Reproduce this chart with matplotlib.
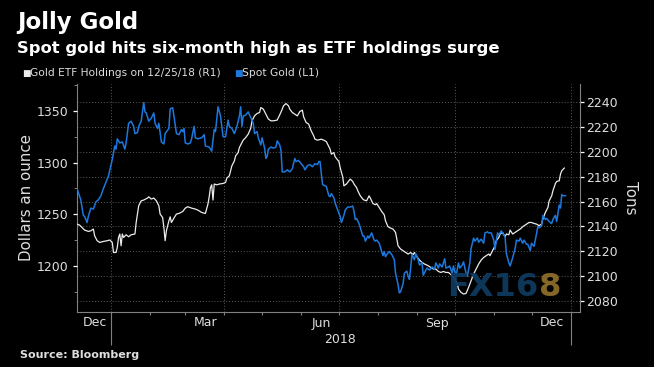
import numpy as np
import pandas as pd
import matplotlib
matplotlib.use('Agg')
import matplotlib.pyplot as plt
import matplotlib.dates as mdates
from matplotlib.ticker import MultipleLocator, FixedLocator


# ----------- values ----------- #

# spot gold, dollars an ounce (left axis)
spot_dates = [
    '2017-12-05', '2017-12-08', '2017-12-10', '2017-12-11', '2017-12-13', '2017-12-14', '2017-12-16',
    '2017-12-18', '2017-12-20', '2017-12-22', '2017-12-24', '2017-12-26', '2017-12-30',
    '2018-01-02', '2018-01-04', '2018-01-05', '2018-01-06', '2018-01-08', '2018-01-10', '2018-01-12',
    '2018-01-13', '2018-01-15', '2018-01-17', '2018-01-19', '2018-01-20', '2018-01-22', '2018-01-23',
    '2018-01-25', '2018-01-27', '2018-01-28', '2018-01-29', '2018-01-31',
    '2018-02-02', '2018-02-04', '2018-02-05', '2018-02-07', '2018-02-08', '2018-02-10', '2018-02-12',
    '2018-02-13', '2018-02-16', '2018-02-17', '2018-02-19', '2018-02-20', '2018-02-22', '2018-02-24',
    '2018-02-26', '2018-02-27', '2018-02-28',
    '2018-03-01', '2018-03-03', '2018-03-05', '2018-03-06', '2018-03-08', '2018-03-09', '2018-03-11',
    '2018-03-14', '2018-03-16', '2018-03-17', '2018-03-20', '2018-03-22', '2018-03-24', '2018-03-25',
    '2018-03-27', '2018-03-29', '2018-03-31',
    '2018-04-02', '2018-04-04', '2018-04-05', '2018-04-07', '2018-04-09', '2018-04-11', '2018-04-13',
    '2018-04-14', '2018-04-15', '2018-04-16', '2018-04-18', '2018-04-20', '2018-04-21', '2018-04-23',
    '2018-04-24', '2018-04-25', '2018-04-27', '2018-04-28', '2018-04-30',
    '2018-05-01', '2018-05-03', '2018-05-04', '2018-05-05', '2018-05-06', '2018-05-08', '2018-05-10',
    '2018-05-12', '2018-05-13', '2018-05-15', '2018-05-16', '2018-05-17', '2018-05-19', '2018-05-21',
    '2018-05-23', '2018-05-25', '2018-05-27', '2018-05-28', '2018-05-30',
    '2018-06-01', '2018-06-03', '2018-06-04', '2018-06-06', '2018-06-08', '2018-06-10', '2018-06-12',
    '2018-06-14', '2018-06-15', '2018-06-16', '2018-06-18', '2018-06-19', '2018-06-21', '2018-06-23',
    '2018-06-24', '2018-06-25', '2018-06-27', '2018-06-28',
    '2018-07-01', '2018-07-02', '2018-07-03', '2018-07-05', '2018-07-06', '2018-07-08', '2018-07-10',
    '2018-07-12', '2018-07-13', '2018-07-14', '2018-07-15', '2018-07-17', '2018-07-19', '2018-07-20',
    '2018-07-21', '2018-07-22', '2018-07-24', '2018-07-25', '2018-07-27', '2018-07-29', '2018-07-30',
    '2018-07-31',
    '2018-08-02', '2018-08-03', '2018-08-05', '2018-08-06', '2018-08-07', '2018-08-08', '2018-08-10',
    '2018-08-12', '2018-08-14', '2018-08-15', '2018-08-17', '2018-08-18', '2018-08-19', '2018-08-21',
    '2018-08-22', '2018-08-24', '2018-08-25', '2018-08-26', '2018-08-27', '2018-08-28', '2018-08-30',
    '2018-08-31',
    '2018-09-02', '2018-09-03', '2018-09-05', '2018-09-06', '2018-09-08', '2018-09-09', '2018-09-11',
    '2018-09-13', '2018-09-15', '2018-09-16', '2018-09-18', '2018-09-19', '2018-09-21', '2018-09-23',
    '2018-09-24', '2018-09-26', '2018-09-27', '2018-09-29', '2018-09-30',
    '2018-10-02', '2018-10-04', '2018-10-05', '2018-10-07', '2018-10-08', '2018-10-10', '2018-10-11',
    '2018-10-13', '2018-10-14', '2018-10-16', '2018-10-17', '2018-10-19', '2018-10-20', '2018-10-22',
    '2018-10-24', '2018-10-25', '2018-10-27', '2018-10-28', '2018-10-30',
    '2018-11-01', '2018-11-02', '2018-11-04', '2018-11-05', '2018-11-07', '2018-11-08', '2018-11-10',
    '2018-11-11', '2018-11-13', '2018-11-14', '2018-11-16', '2018-11-18', '2018-11-19', '2018-11-21',
    '2018-11-22', '2018-11-24', '2018-11-25', '2018-11-27', '2018-11-28', '2018-11-30',
    '2018-12-01', '2018-12-03', '2018-12-04', '2018-12-06', '2018-12-07', '2018-12-09', '2018-12-10',
    '2018-12-12', '2018-12-13', '2018-12-15', '2018-12-17', '2018-12-18', '2018-12-20', '2018-12-21',
    '2018-12-23', '2018-12-24', '2018-12-25', '2018-12-26', '2018-12-28',
]
spot_usd = [
    1275, 1264, 1249, 1248, 1242, 1248, 1256, 1255, 1262, 1264, 1268, 1275, 1287,
    1303, 1316, 1313, 1323, 1319, 1320, 1313, 1319, 1338, 1340, 1335, 1328, 1329, 1335, 1340,
    1358, 1349, 1348, 1340,
    1343, 1348, 1338, 1333, 1338, 1320, 1318, 1328, 1333, 1352, 1353, 1345, 1328, 1327, 1332,
    1330, 1333,
    1319, 1318, 1319, 1323, 1335, 1324, 1323, 1324, 1327, 1316, 1315, 1311, 1332, 1330, 1354,
    1345, 1325,
    1325, 1341, 1335, 1333, 1328, 1335, 1345, 1354, 1335, 1345, 1346, 1349, 1346, 1341, 1338,
    1328, 1330, 1324, 1317,
    1324, 1314, 1304, 1306, 1313, 1315, 1314, 1315, 1321, 1317, 1312, 1291, 1291, 1293, 1291,
    1294, 1304, 1301, 1302,
    1299, 1296, 1293, 1297, 1298, 1296, 1299, 1298, 1301, 1301, 1279, 1278, 1277, 1268, 1267,
    1270, 1266, 1261,
    1251, 1248, 1242, 1249, 1254, 1257, 1257, 1258, 1253, 1245, 1246, 1241, 1233, 1229, 1229,
    1224, 1229, 1227, 1232, 1225, 1224, 1225,
    1222, 1218, 1210, 1214, 1209, 1211, 1214, 1211, 1206, 1193, 1182, 1174, 1175, 1183, 1193,
    1195, 1190, 1187, 1198, 1211, 1206, 1212,
    1206, 1201, 1203, 1191, 1196, 1198, 1196, 1199, 1197, 1203, 1198, 1202, 1199, 1207, 1198,
    1199, 1200, 1193, 1200,
    1190, 1203, 1198, 1201, 1204, 1193, 1190, 1203, 1217, 1227, 1224, 1227, 1223, 1226, 1222,
    1232, 1233, 1232, 1232,
    1225, 1216, 1232, 1230, 1234, 1232, 1228, 1212, 1203, 1200, 1208, 1217, 1225, 1224, 1227,
    1222, 1225, 1221, 1221, 1215,
    1222, 1219, 1225, 1238, 1237, 1239, 1249, 1245, 1246, 1243, 1241, 1245, 1249, 1243, 1259,
    1256, 1269, 1268, 1268,
]

# gold ETF holdings, tons (right axis)
etf_dates = [
    '2017-12-05', '2017-12-07', '2017-12-09', '2017-12-11', '2017-12-14', '2017-12-16', '2017-12-18',
    '2017-12-19', '2017-12-21', '2017-12-23', '2017-12-26', '2017-12-29', '2017-12-31',
    '2018-01-02', '2018-01-03', '2018-01-05', '2018-01-06', '2018-01-07', '2018-01-08', '2018-01-09',
    '2018-01-10', '2018-01-11', '2018-01-13', '2018-01-15', '2018-01-17', '2018-01-20', '2018-01-21',
    '2018-01-23', '2018-01-25', '2018-01-27', '2018-01-30', '2018-01-31',
    '2018-02-02', '2018-02-04', '2018-02-06', '2018-02-08', '2018-02-09', '2018-02-11', '2018-02-12',
    '2018-02-13', '2018-02-14', '2018-02-16', '2018-02-17', '2018-02-18', '2018-02-20', '2018-02-22',
    '2018-02-24', '2018-02-27',
    '2018-03-01', '2018-03-03', '2018-03-06', '2018-03-09', '2018-03-11', '2018-03-14', '2018-03-17',
    '2018-03-19', '2018-03-20', '2018-03-21', '2018-03-22', '2018-03-23', '2018-03-24', '2018-03-26',
    '2018-03-28', '2018-03-31',
    '2018-04-02', '2018-04-03', '2018-04-05', '2018-04-06', '2018-04-07', '2018-04-09', '2018-04-10',
    '2018-04-12', '2018-04-13', '2018-04-15', '2018-04-16', '2018-04-18', '2018-04-20', '2018-04-22',
    '2018-04-23', '2018-04-25', '2018-04-27', '2018-04-29', '2018-04-30',
    '2018-05-02', '2018-05-04', '2018-05-06', '2018-05-08', '2018-05-10', '2018-05-13', '2018-05-15',
    '2018-05-17', '2018-05-18', '2018-05-20', '2018-05-22', '2018-05-23', '2018-05-25', '2018-05-27',
    '2018-05-29', '2018-05-31',
    '2018-06-02', '2018-06-03', '2018-06-05', '2018-06-07', '2018-06-09', '2018-06-11', '2018-06-12',
    '2018-06-14', '2018-06-17', '2018-06-19', '2018-06-21', '2018-06-22', '2018-06-24', '2018-06-25',
    '2018-06-27', '2018-06-28',
    '2018-07-01', '2018-07-02', '2018-07-04', '2018-07-05', '2018-07-07', '2018-07-08', '2018-07-10',
    '2018-07-12', '2018-07-13', '2018-07-15', '2018-07-16', '2018-07-18', '2018-07-20', '2018-07-21',
    '2018-07-23', '2018-07-25', '2018-07-26', '2018-07-28', '2018-07-30', '2018-07-31',
    '2018-08-02', '2018-08-04', '2018-08-06', '2018-08-07', '2018-08-09', '2018-08-11', '2018-08-13',
    '2018-08-15', '2018-08-16', '2018-08-17', '2018-08-19', '2018-08-21', '2018-08-23', '2018-08-25',
    '2018-08-27', '2018-08-29', '2018-08-30',
    '2018-09-01', '2018-09-03', '2018-09-05', '2018-09-07', '2018-09-10', '2018-09-12', '2018-09-14',
    '2018-09-16', '2018-09-18', '2018-09-20', '2018-09-22', '2018-09-24', '2018-09-26', '2018-09-29',
    '2018-10-01', '2018-10-03', '2018-10-04', '2018-10-06', '2018-10-08', '2018-10-10', '2018-10-12',
    '2018-10-14', '2018-10-16', '2018-10-18', '2018-10-20', '2018-10-22', '2018-10-24', '2018-10-26',
    '2018-10-28', '2018-10-29', '2018-10-31',
    '2018-11-02', '2018-11-03', '2018-11-05', '2018-11-06', '2018-11-08', '2018-11-10', '2018-11-11',
    '2018-11-13', '2018-11-14', '2018-11-16', '2018-11-18', '2018-11-20', '2018-11-22', '2018-11-24',
    '2018-11-27', '2018-11-29',
    '2018-12-01', '2018-12-03', '2018-12-05', '2018-12-07', '2018-12-09', '2018-12-10', '2018-12-12',
    '2018-12-14', '2018-12-15', '2018-12-17', '2018-12-18', '2018-12-20', '2018-12-21', '2018-12-23',
    '2018-12-24', '2018-12-25', '2018-12-27',
]
etf_tons = [
    2141.8, 2141.0, 2139.1, 2137.0, 2135.9, 2136.4, 2137.8, 2132.4, 2128.4, 2127.0, 2127.8, 2128.4, 2129.0,
    2127.0, 2118.9, 2118.9, 2123.0, 2131.0, 2133.8, 2124.3, 2133.8, 2131.0, 2133.2, 2131.6, 2133.2,
    2133.8, 2143.1, 2156.6, 2160.6, 2161.2, 2162.8, 2163.8,
    2162.0, 2162.8, 2160.6, 2156.6, 2149.9, 2147.1, 2139.1, 2128.4, 2136.4, 2144.5, 2147.7, 2143.1,
    2146.7, 2149.9, 2150.4, 2152.0,
    2154.7, 2155.8, 2154.7, 2153.9, 2153.1, 2151.2, 2150.4, 2158.0, 2163.8, 2171.3, 2173.5, 2161.2,
    2174.1, 2173.5, 2174.1, 2174.6,
    2175.4, 2178.9, 2180.8, 2184.8, 2188.8, 2192.8, 2196.9, 2199.5, 2203.6, 2207.6, 2209.5, 2211.6,
    2214.4, 2219.2, 2225.1, 2229.1, 2231.0, 2231.8, 2235.8,
    2234.5, 2230.5, 2226.5, 2225.1, 2225.1, 2225.7, 2229.9, 2234.5, 2237.2, 2239.0, 2237.2, 2234.5,
    2231.8, 2230.5, 2229.1, 2232.6,
    2233.7, 2228.3, 2223.7, 2222.4, 2217.0, 2213.0, 2210.3, 2209.5, 2210.3, 2209.5, 2208.4, 2206.3,
    2202.3, 2198.2, 2199.5, 2196.1,
    2192.3, 2187.4, 2180.0, 2172.7, 2174.1, 2175.4, 2178.1, 2176.2, 2174.1, 2171.3, 2168.7, 2164.6,
    2162.0, 2161.2, 2160.6, 2164.6, 2162.8, 2158.4, 2157.4, 2158.4,
    2155.2, 2152.0, 2149.3, 2144.5, 2139.7, 2138.6, 2137.8, 2135.1, 2129.7, 2124.3, 2121.7, 2120.3,
    2118.9, 2117.6, 2118.9, 2117.1, 2118.9,
    2115.5, 2112.8, 2110.9, 2109.6, 2108.2, 2106.8, 2105.6, 2105.6, 2103.6, 2102.8, 2103.6, 2102.8,
    2102.8, 2100.2,
    2097.5, 2093.5, 2089.4, 2086.7, 2085.4, 2085.9, 2090.7, 2096.1, 2101.5, 2105.6, 2109.6, 2112.8,
    2114.9, 2116.3, 2117.7, 2116.3, 2120.3,
    2124.3, 2128.4, 2131.0, 2133.8, 2135.1, 2131.6, 2133.8, 2133.2, 2137.0, 2133.8, 2135.1, 2136.4,
    2137.8, 2139.7, 2141.8, 2143.1,
    2143.1, 2142.3, 2141.8, 2140.5, 2141.8, 2145.9, 2151.2, 2155.2, 2160.6, 2164.6, 2168.7, 2174.6,
    2176.2, 2176.7, 2182.1, 2184.8, 2187.0,
]

legend_labels = ['Gold ETF Holdings on 12/25/18 (R1)', 'Spot Gold (L1)']
month_labels = ['Dec', 'Mar', 'Jun', 'Sep', 'Dec']
month_label_dates = ['2017-12-19', '2018-03-17', '2018-06-17', '2018-09-17', '2018-12-17']
quarter_starts = ['2018-01-01', '2018-04-01', '2018-07-01', '2018-10-01', '2019-01-01']
year_label = '2018'
year_label_date = '2018-07-02'

spot_ticks = [1200, 1250, 1300, 1350]
etf_ticks = [2080, 2100, 2120, 2140, 2160, 2180, 2200, 2220, 2240]

BLUE = '#1c78dc'
WHITE = '#ececec'
GRID = '#5c5c5c'
SPINE = '#808080'
TXT = '#dedede'

# ----------- figure ----------- #
W, H = 654, 367
fig = plt.figure(figsize=(W / 100, H / 100), dpi=100)
fig.patch.set_facecolor('black')

# ax carries the tons scale (ticks on the right), ax2 the dollar scale (ticks on the left)
ax = fig.add_axes([77 / W, 1 - 312 / H, 503 / W, 228 / H])
ax.set_facecolor('black')
ax2 = ax.twinx()

ax.plot(pd.to_datetime(etf_dates), etf_tons, color=WHITE, lw=0.9, zorder=3)
ax2.plot(pd.to_datetime(spot_dates), spot_usd, color=BLUE, lw=1.1, zorder=3)

ax.set_xlim(pd.Timestamp('2017-12-05'), pd.Timestamp('2019-01-08 12:00'))
ax.set_ylim(2070.9, 2254.8)
ax2.set_ylim(1155.5, 1376)

# spines
for a in (ax, ax2):
    for s in a.spines.values():
        s.set_visible(False)
for s in ('left', 'right', 'bottom'):
    ax.spines[s].set_visible(True)
    ax.spines[s].set_color(SPINE)
    ax.spines[s].set_linewidth(0.8)

# right axis: tons
ax.yaxis.tick_right()
ax.yaxis.set_major_locator(FixedLocator(etf_ticks))
ax.tick_params(axis='y', which='major', right=True, left=False, labelright=True, labelleft=False,
               length=3, width=0.9, color='white', pad=1.5, labelsize=9, labelcolor=TXT)

# left axis: dollars
ax2.yaxis.tick_left()
ax2.yaxis.set_major_locator(FixedLocator(spot_ticks))
ax2.yaxis.set_minor_locator(MultipleLocator(25))
ax2.tick_params(axis='y', which='major', left=True, right=False, labelleft=True, labelright=False,
                length=3, width=0.9, color='white', pad=3, labelsize=9, labelcolor=TXT)
ax2.tick_params(axis='y', which='minor', left=True, right=False, length=2, width=0.7, color=SPINE)

# x axis: month ticks, long ticks at year boundaries
ax.xaxis.set_major_locator(FixedLocator(mdates.date2num(pd.to_datetime(quarter_starts))))
ax.xaxis.set_minor_locator(mdates.MonthLocator())
ax.tick_params(axis='x', which='both', length=2.5, width=0.8, color=SPINE, labelbottom=False)
for tick, d in zip(ax.xaxis.get_major_ticks(), pd.to_datetime(quarter_starts)):
    if d.month == 1:
        tick.tick1line.set_markersize(24)

ax.grid(axis='x', which='major', color=GRID, linestyle=(0, (1, 2)), lw=0.7)
ax.grid(axis='y', which='major', color=GRID, linestyle=(0, (1, 2)), lw=0.7)
ax.set_axisbelow(True)

xt = ax.get_xaxis_transform()
for lbl, d in zip(month_labels, month_label_dates):
    ax.text(pd.Timestamp(d), -14.5 / 228, lbl, transform=xt, ha='center', va='baseline',
            fontsize=9, color=TXT)
ax.text(pd.Timestamp(year_label_date), -31 / 228, year_label, transform=xt, ha='center',
        va='baseline', fontsize=9, color=TXT)

# axis titles
fig.text(26.5 / W, 1 - 197.5 / H, 'Dollars an ounce', rotation=90, ha='center', va='center',
         fontsize=10.8, color=TXT)
fig.text(630 / W, 1 - 198 / H, 'Tons', rotation=270, ha='center', va='center',
         fontsize=10.8, color=TXT)

# headline
fig.text(17 / W, 1 - 29.5 / H, 'Jolly Gold', fontsize=16.5, weight='bold', color='white',
         va='baseline')
fig.text(17 / W, 1 - 52.5 / H, 'Spot gold hits six-month high as ETF holdings surge',
         fontsize=11.8, weight='bold', color='white', va='baseline')

# legend
fig.text(22 / W, 1 - 76 / H, '\u25a0', fontsize=6.5, color=WHITE, va='baseline')
fig.text(30 / W, 1 - 76 / H, legend_labels[0], fontsize=7.7, color=TXT, va='baseline')
fig.text(234 / W, 1 - 76 / H, '\u25a0', fontsize=6.5, color=BLUE, va='baseline')
fig.text(242 / W, 1 - 76 / H, legend_labels[1], fontsize=7.7, color=TXT, va='baseline')

fig.text(19.5 / W, 1 - 357.5 / H, 'Source: Bloomberg', fontsize=8, weight='bold', color=TXT,
         va='baseline')

# watermark
fig.text(538 / W, 1 - 296 / H, 'FX16', fontsize=23, weight='bold', color='#0f3a5e',
         ha='right', va='baseline', alpha=0.95)
fig.text(539 / W, 1 - 296 / H, '8', fontsize=23, weight='bold', color='#8c6c2a',
         ha='left', va='baseline', alpha=0.95)

fig.savefig('out.png', dpi=100, facecolor=fig.get_facecolor())
